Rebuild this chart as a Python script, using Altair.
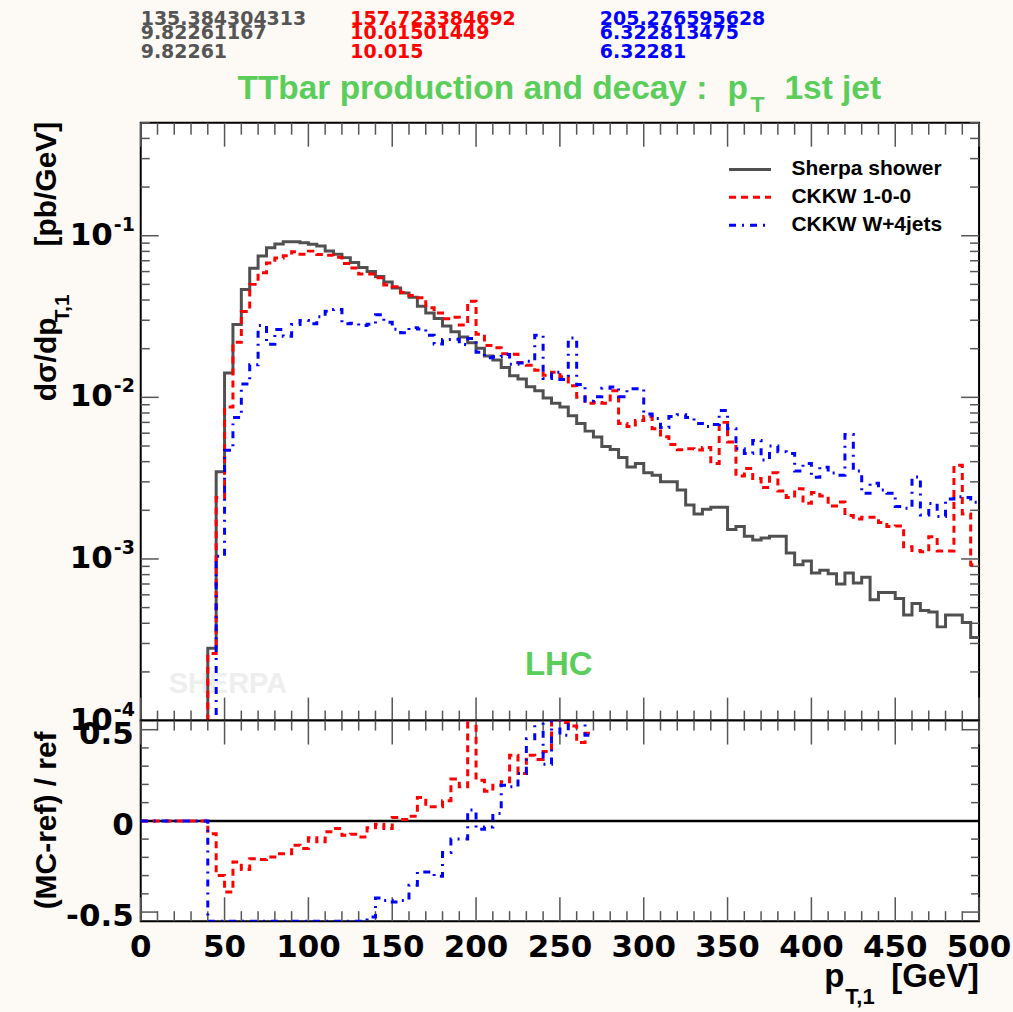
import altair as alt
import pandas as pd

# ---------------- data (bin lower edges 0,5,...,495 GeV; 0 = empty bin) ----------------
series_names = ["Sherpa shower", "CKKW 1-0-0", "CKKW W+4jets"]
series_colors = ["#505050", "#ff0000", "#0000ff"]
series_dashes = [[1, 0], [7, 5], [7, 6, 2, 6]]

sherpa = [0, 0, 0, 0, 0, 0, 0, 0,
          2.8e-4, 3.46e-3,
          0.01413, 0.0282, 0.0464, 0.0630, 0.0750, 0.0844, 0.0889, 0.0918, 0.0918, 0.0906,
          0.0885, 0.0864, 0.0805, 0.0767, 0.0732, 0.0682, 0.0636, 0.0601, 0.0560, 0.0517,
          0.0475, 0.0442, 0.0416, 0.0366, 0.0333, 0.0308, 0.0276, 0.0255, 0.0236, 0.0218,
          0.0201, 0.0180, 0.0170, 0.0153, 0.0136, 0.0130, 0.01164, 0.0110, 0.0099, 0.0092,
          0.0087, 0.0077, 0.0069, 0.00618, 0.00568, 0.00497, 0.00475, 0.00424, 0.00371, 0.00389,
          0.00341, 0.0033, 0.0030, 0.0030, 0.00267, 0.00216, 0.0019, 0.00203, 0.00209, 0.00209,
          0.00152, 0.00159, 0.00138, 0.00131, 0.00135, 0.00138, 0.00138, 0.00109, 0.00092, 0.00097,
          0.00082, 0.00085, 0.00081, 0.00070, 0.00082, 0.00071, 0.00077, 0.00056, 0.00062, 0.00062,
          0.00057, 0.00045, 0.00053, 0.00048, 0.00047, 0.00038, 0.00045, 0.00045, 0.000405, 0.000327]

ckkw_100 = [0, 0, 0, 0, 0, 0, 0, 0,
            2.6e-4, 2.4e-3, 0.0087, 0.0219, 0.034, 0.050, 0.059, 0.0677, 0.0729, 0.0753,
            0.0795, 0.0768, 0.0803, 0.0765, 0.0757, 0.0735, 0.0674, 0.0632, 0.058, 0.0579,
            0.055, 0.0495, 0.0484, 0.0445, 0.0427, 0.0413, 0.0359, 0.0332, 0.0306, 0.0313,
            0.028, 0.0393, 0.0246, 0.0209, 0.0203, 0.0186, 0.0185, 0.0164, 0.0158, 0.0147,
            0.0137, 0.0143, 0.0134, 0.0118, 0.0100, 0.0092, 0.0093, 0.0092, 0.0110, 0.0069,
            0.0066, 0.0072, 0.0076, 0.0064, 0.0057, 0.0051, 0.00474, 0.0048, 0.00473, 0.0049,
            0.0039, 0.0070, 0.0053, 0.00326, 0.00363, 0.00315, 0.00277, 0.00341, 0.00263, 0.0024,
            0.00272, 0.00221, 0.00258, 0.00245, 0.00213, 0.00225, 0.00186, 0.00177, 0.00181, 0.00181,
            0.00168, 0.00159, 0.0016, 0.00119, 0.00113, 0.00111, 0.00137, 0.00112, 0.00112, 0.0038,
            0.0019, 0.00092]

ckkw_w4j = [0, 0, 0, 0, 0, 0, 0, 0,
            0, 0.00104, 0.0047, 0.0075, 0.0121, 0.0159, 0.0278, 0.0213, 0.0263, 0.0239,
            0.0282, 0.0299, 0.0285, 0.0315, 0.0341, 0.0350, 0.0285, 0.0287, 0.0278, 0.0283,
            0.0324, 0.0292, 0.0264, 0.0251, 0.0270, 0.0265, 0.0242, 0.0214, 0.0228, 0.0229,
            0.0212, 0.0231, 0.0190, 0.0176, 0.0178, 0.0184, 0.0160, 0.0163, 0.0167, 0.0242,
            0.0131, 0.0143, 0.0129, 0.0233, 0.0120, 0.0095, 0.0101, 0.0114, 0.0116, 0.0101,
            0.0113, 0.0113, 0.0079, 0.0074, 0.0065, 0.0076, 0.0078, 0.0075, 0.0069, 0.0066,
            0.0068, 0.0083, 0.0064, 0.0048, 0.0045, 0.0054, 0.0041, 0.0050, 0.0046, 0.0045,
            0.0035, 0.0039, 0.0032, 0.0037, 0.0034, 0.0033, 0.0059, 0.0035, 0.00255, 0.00294,
            0.00267, 0.00255, 0.00211, 0.00206, 0.00322, 0.00187, 0.0022, 0.00183, 0.00235, 0.00243,
            0.0024, 0.00224]

# (MC-ref)/ref, bins 0..265 GeV (values at +-0.55 are drawn at the frame edge)
ratio_100 = [0, 0, 0, 0, 0, 0, 0, 0,
             -0.07, -0.30, -0.39, -0.225, -0.266, -0.207, -0.212, -0.198, -0.18, -0.18,
             -0.134, -0.152, -0.093, -0.115, -0.06, -0.042, -0.079, -0.073, -0.088, -0.037,
             -0.018, -0.042, 0.018, 0.007, 0.026, 0.128, 0.077, 0.077, 0.11, 0.229,
             0.187, 0.56, 0.223, 0.163, 0.196, 0.214, 0.36, 0.26, 0.36, 0.337,
             0.38, 0.56, 0.54, 0.52, 0.43, 0.48]
ratio_w4j = [0, 0, 0, 0, 0, 0, 0, 0,
             -0.55, -0.55, -0.55, -0.55, -0.55, -0.55, -0.55, -0.55, -0.55, -0.55,
             -0.55, -0.55, -0.55, -0.55, -0.55, -0.55, -0.55, -0.55, -0.55,
             -0.527, -0.423, -0.436, -0.445, -0.436, -0.353, -0.28, -0.28, -0.304, -0.174,
             -0.10, -0.10, 0.059, -0.046, -0.033, 0.04, 0.196, 0.187, 0.26, 0.45,
             0.56, 0.31, 0.56, 0.47, 0.56, 0.56, 0.47]

stats_sherpa = ["135.384304313", "9.82261167", "9.82261"]
stats_100 = ["157.723384692", "10.01501449", "10.015"]
stats_w4j = ["205.276595628", "6.322813475", "6.32281"]

x_label_vals = [0, 50, 100, 150, 200, 250, 300, 350, 400, 450, 500]
x_label_text = ["0", "50", "100", "150", "200", "250", "300", "350", "400", "450", "500"]
x_major_ticks = [0, 50, 100, 150, 200, 250, 300, 350, 400, 450, 500]
x_minor_ticks = [10, 20, 30, 40, 60, 70, 80, 90, 110, 120, 130, 140, 160, 170, 180, 190,
                 210, 220, 230, 240, 260, 270, 280, 290, 310, 320, 330, 340, 360, 370, 380, 390,
                 410, 420, 430, 440, 460, 470, 480, 490]
y_major_ticks = [1e-4, 1e-3, 1e-2, 1e-1]
y_minor_ticks = [2e-4, 3e-4, 4e-4, 5e-4, 6e-4, 7e-4, 8e-4, 9e-4,
                 2e-3, 3e-3, 4e-3, 5e-3, 6e-3, 7e-3, 8e-3, 9e-3,
                 0.02, 0.03, 0.04, 0.05, 0.06, 0.07, 0.08, 0.09, 0.2, 0.3, 0.4, 0.5]
y_label_vals = [1e-1, 1e-2, 1e-3, 1e-4]
y_label_exps = ["-1", "-2", "-3", "-4"]
r_major_ticks = [-0.5, 0.0, 0.5]
r_minor_ticks = [-0.4, -0.3, -0.2, -0.1, 0.1, 0.2, 0.3, 0.4]
r_label_vals = [-0.5, 0.0, 0.5]
r_label_text = ["-0.5", "0", "0.5"]

# ---------------- style ----------------
W, H_MAIN, H_RATIO = 840, 599, 201
BG = "#fdf9f5"
GREEN = "#5acd5a"
TICK = "#555555"
TXT_FONT = "Liberation Sans"
NUM_FONT = "DejaVu Sans"
BIN_W = 5
FLOOR = 1e-7

xs = alt.Scale(domain=[0, 500], nice=False, zero=False)
ys = alt.Scale(type="log", domain=[1e-4, 0.5], nice=False)
rs = alt.Scale(domain=[-0.55, 0.55], nice=False, zero=False)


def hist_table(names, arrays, end):
    rows = []
    for name, vals in zip(names, arrays):
        for i, v in enumerate(vals):
            rows.append({"series": name, "pt": i * BIN_W, "val": v if v > 0 else FLOOR})
        rows.append({"series": name, "pt": end, "val": vals[-1] if vals[-1] > 0 else FLOOR})
    return pd.DataFrame(rows)


def ratio_table(names, arrays, end):
    rows = []
    for name, vals in zip(names, arrays):
        for i, v in enumerate(vals):
            rows.append({"series": name, "pt": i * BIN_W, "r": v})
        rows.append({"series": name, "pt": end, "r": vals[-1]})
    return pd.DataFrame(rows)


def txt(s, x, y, size, color="black", font=TXT_FONT, align="left", baseline="alphabetic",
        angle=0, weight="bold"):
    return alt.Chart(pd.DataFrame({"t": [s]})).mark_text(
        text=s, font=font, fontSize=size, fontWeight=weight, color=color, align=align,
        baseline=baseline, angle=angle
    ).encode(x=alt.value(x), y=alt.value(y))


def xtick_layers(vals, y0, length, sign):
    return alt.Chart(pd.DataFrame({"v": vals})).mark_rule(color=TICK, strokeWidth=1.5).encode(
        x=alt.X("v:Q", scale=xs, axis=None), y=alt.value(y0), y2=alt.value(y0 + sign * length))


def ytick_layers(vals, scale, x0, length, sign):
    return alt.Chart(pd.DataFrame({"v": vals})).mark_rule(color=TICK, strokeWidth=1.5).encode(
        y=alt.Y("v:Q", scale=scale, axis=None), x=alt.value(x0), x2=alt.value(x0 + sign * length))


main_df = hist_table(series_names, [sherpa, ckkw_100, ckkw_w4j], 500)
ratio_df = ratio_table(series_names[1:], [ratio_100, ratio_w4j], 270)

leg = alt.Legend(title=None, orient="none", legendX=588, legendY=33, symbolType="stroke",
                 symbolSize=1764, symbolStrokeWidth=3, labelFont=TXT_FONT, labelFontWeight="bold",
                 labelFontSize=21, labelColor="black", labelOffset=19, rowPadding=0,
                 clipHeight=27.5, padding=0, labelLimit=400)

curves = alt.Chart(main_df).mark_line(interpolate="step-after", clip=True, strokeWidth=3).encode(
    x=alt.X("pt:Q", scale=xs, axis=None),
    y=alt.Y("val:Q", scale=ys, axis=None),
    color=alt.Color("series:N", scale=alt.Scale(domain=series_names, range=series_colors),
                    legend=leg),
    strokeDash=alt.StrokeDash("series:N", scale=alt.Scale(domain=series_names, range=series_dashes),
                              legend=leg),
)

ylab_df = pd.DataFrame({"v": y_label_vals, "e": y_label_exps})
ylab10 = alt.Chart(ylab_df).mark_text(text="10", font=NUM_FONT, fontWeight="bold", fontSize=31,
                                      align="right", baseline="middle", color="black").encode(
    x=alt.value(-28), y=alt.Y("v:Q", scale=ys, axis=None))
ylabexp = alt.Chart(ylab_df).mark_text(font=NUM_FONT, fontWeight="bold", fontSize=19,
                                       align="left", baseline="middle", dy=-11, color="black").encode(
    x=alt.value(-27), y=alt.Y("v:Q", scale=ys, axis=None), text="e:N")

bounds = alt.Chart(pd.DataFrame({"a": [0]})).mark_rect(opacity=0).encode(
    x=alt.value(-140), x2=alt.value(873), y=alt.value(-121), y2=alt.value(891))

main_layers = [
    bounds,
    xtick_layers(x_major_ticks, 0, 24, 1), xtick_layers(x_minor_ticks, 0, 12, 1),
    xtick_layers(x_major_ticks, H_MAIN, 23, -1), xtick_layers(x_minor_ticks, H_MAIN, 10, -1),
    ytick_layers(y_major_ticks, ys, 0, 18, 1), ytick_layers(y_minor_ticks, ys, 0, 9, 1),
    ytick_layers(y_major_ticks, ys, W, 18, -1), ytick_layers(y_minor_ticks, ys, W, 9, -1),
    txt("SHERPA", 28, 571, 29, color="#eeeeee"),
    txt("LHC", 385, 553, 33, color=GREEN),
    curves, ylab10, ylabexp,
]
for col_x, col_color, vals in [(0, "#555555", stats_sherpa), (210, "#ff0000", stats_100),
                               (460, "#0000ff", stats_w4j)]:
    for row_y, s in zip([-98, -84, -65], vals):
        main_layers.append(txt(s, col_x, row_y, 19, color=col_color, font=NUM_FONT))
main_layers += [
    txt("TTbar production and decay :", 97, -24, 33.5, color=GREEN),
    txt("p", 588, -24, 33.5, color=GREEN),
    txt("T", 611, -11, 23, color=GREEN),
    txt("1st jet", 645, -24, 33.5, color=GREEN),
    txt("dσ/dp", -85, 279, 30, angle=270),
    txt("T,1", -72, 200, 21, angle=270),
    txt("[pb/GeV]", -85, -1, 30, angle=270, align="right"),
]
main = alt.layer(*main_layers).properties(width=W, height=H_MAIN)

# ---------------- ratio panel ----------------
zero_line = alt.Chart(pd.DataFrame({"r": [0.0]})).mark_rule(color="black", strokeWidth=2.5).encode(
    y=alt.Y("r:Q", scale=rs, axis=None), x=alt.value(0), x2=alt.value(W))

ratio_curves = alt.Chart(ratio_df).mark_line(interpolate="step-after", clip=True, strokeWidth=3).encode(
    x=alt.X("pt:Q", scale=xs, axis=None),
    y=alt.Y("r:Q", scale=rs, axis=None),
    color=alt.Color("series:N", scale=alt.Scale(domain=series_names, range=series_colors), legend=None),
    strokeDash=alt.StrokeDash("series:N", scale=alt.Scale(domain=series_names, range=series_dashes),
                              legend=None),
)

xlab = alt.Chart(pd.DataFrame({"v": x_label_vals, "t": x_label_text})).mark_text(
    font=NUM_FONT, fontWeight="bold", fontSize=31, align="center", baseline="alphabetic",
    color="black").encode(x=alt.X("v:Q", scale=xs, axis=None), y=alt.value(H_RATIO + 36), text="t:N")
rlab = alt.Chart(pd.DataFrame({"v": r_label_vals, "t": r_label_text})).mark_text(
    font=NUM_FONT, fontWeight="bold", fontSize=31, align="right", baseline="alphabetic", dy=14,
    color="black").encode(y=alt.Y("v:Q", scale=rs, axis=None), x=alt.value(-7), text="t:N")

ratio = alt.layer(
    xtick_layers(x_major_ticks, 0, 24, 1), xtick_layers(x_minor_ticks, 0, 10, 1),
    xtick_layers(x_major_ticks, H_RATIO, 24, -1), xtick_layers(x_minor_ticks, H_RATIO, 10, -1),
    ytick_layers(r_major_ticks, rs, 0, 17, 1), ytick_layers(r_minor_ticks, rs, 0, 8, 1),
    ytick_layers(r_major_ticks, rs, W, 17, -1), ytick_layers(r_minor_ticks, rs, W, 8, -1),
    zero_line, ratio_curves, xlab, rlab,
    txt("(MC-ref) / ref", -85, 100, 30, angle=270, align="center"),
    txt("p", 685, 267, 33),
    txt("T,1", 706, 284, 22),
    txt("[GeV]", 840, 267, 33, align="right"),
).properties(width=W, height=H_RATIO)

chart = alt.vconcat(main, ratio, spacing=0, bounds="flush").properties(
    background=BG, padding=0
).configure_view(stroke="black", strokeWidth=2, fill="white")

chart.save("out.html", embed_options={"renderer": "svg", "actions": False})
